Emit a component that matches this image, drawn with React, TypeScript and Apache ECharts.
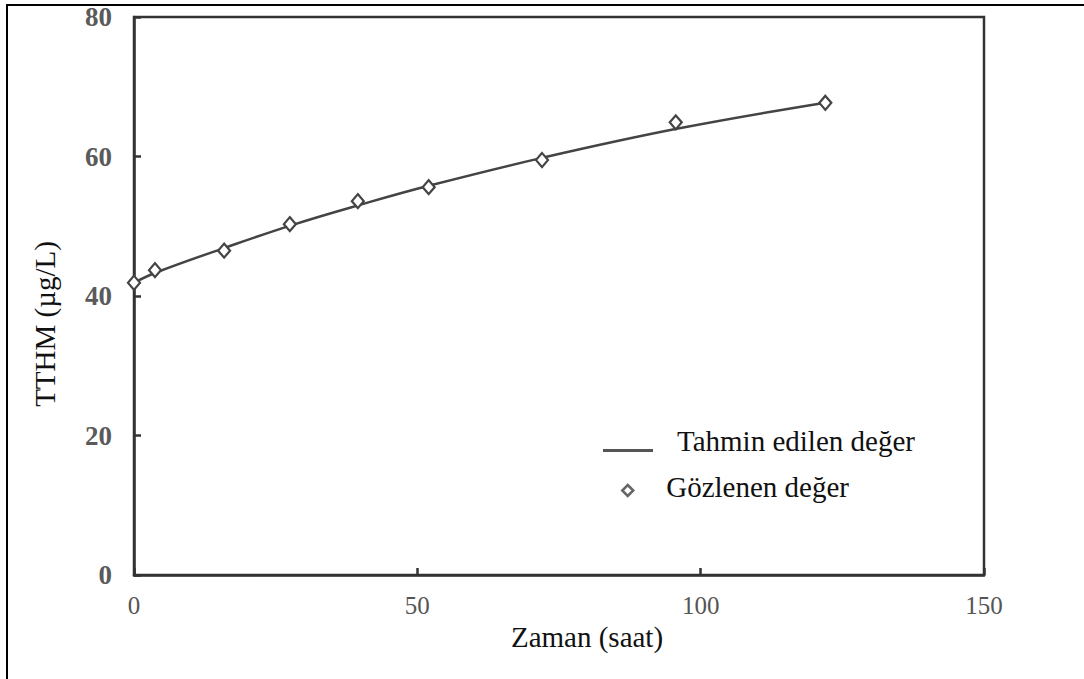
import React, { useEffect, useRef } from "react";
import * as echarts from "echarts";

// Zaman (saat) values and TTHM concentrations (µg/L)
const observedTime = [0, 3.7, 15.9, 27.5, 39.5, 52, 72, 95.6, 122];
const observedTTHM = [41.9, 43.7, 46.5, 50.3, 53.6, 55.6, 59.5, 64.9, 67.7];

const predictedTime = [0, 4, 16, 28, 40, 52, 72, 96, 122];
const predictedTTHM = [41.9, 43.4, 46.9, 50.2, 53.1, 55.8, 59.8, 64.0, 67.7];

const xTicks = { min: 0, max: 150, interval: 50 };
const yTicks = { min: 0, max: 80, interval: 20 };

const seriesNames = ["Tahmin edilen değer", "Gözlenen değer"];
const axisTitles = { x: "Zaman (saat)", y: "TTHM (µg/L)" };

const SERIF = "Liberation Serif";

export default function App() {
  const ref = useRef<HTMLDivElement>(null);

  useEffect(() => {
    if (!ref.current) return;
    const chart = echarts.init(ref.current, undefined, { renderer: "svg" });

    const line = predictedTime.map((t, i) => [t, predictedTTHM[i]]);
    const points = observedTime.map((t, i) => [t, observedTTHM[i]]);

    const axisLine = { show: true, lineStyle: { color: "#333", width: 2.5 } };
    const axisTick = { show: true, inside: true, length: 7, lineStyle: { color: "#333", width: 2.5 } };

    const legendText = (padLeft: number, padBottom: number) => ({
      fontFamily: SERIF,
      fontSize: 29,
      color: "#111",
      rich: {
        t: { fontFamily: SERIF, fontSize: 29, color: "#111", padding: [0, 0, padBottom, padLeft] },
      },
    });

    chart.setOption({
      animation: false,
      backgroundColor: "#fff",
      textStyle: { fontFamily: SERIF },
      grid: {
        left: 134,
        right: 100,
        top: 17,
        bottom: 104,
        show: true,
        borderColor: "#333",
        borderWidth: 2.5,
        backgroundColor: "transparent",
      },
      xAxis: {
        type: "value",
        min: xTicks.min,
        max: xTicks.max,
        interval: xTicks.interval,
        axisLine,
        axisTick,
        splitLine: { show: false },
        axisLabel: {
          margin: 18,
          fontFamily: SERIF,
          fontSize: 25,
          color: "#555",
        },
        name: axisTitles.x,
        nameLocation: "middle",
        nameGap: 44,
        nameTextStyle: {
          fontFamily: SERIF,
          fontSize: 29,
          color: "#111",
          padding: [0, 0, 0, 56],
        },
      },
      yAxis: {
        type: "value",
        min: yTicks.min,
        max: yTicks.max,
        interval: yTicks.interval,
        axisLine,
        axisTick,
        splitLine: { show: false },
        axisLabel: {
          margin: 22,
          fontFamily: SERIF,
          fontSize: 27,
          fontWeight: "bold",
          color: "#5a5a5a",
        },
        name: axisTitles.y,
        nameLocation: "middle",
        nameGap: 75,
        nameTextStyle: {
          fontFamily: SERIF,
          fontSize: 29,
          color: "#111",
          padding: [0, 56, 0, 0],
        },
      },
      legend: [
        {
          data: [{ name: seriesNames[0], icon: "rect" }],
          left: 598,
          top: 421,
          itemWidth: 50,
          itemHeight: 3,
          itemGap: 0,
          itemStyle: { color: "#555", borderWidth: 0 },
          formatter: "{t|{name}}",
          textStyle: legendText(19, 20),
          selectedMode: false,
        },
        {
          data: [{ name: seriesNames[1], icon: "diamond" }],
          left: 616,
          top: 467,
          itemWidth: 11,
          itemHeight: 11,
          itemGap: 0,
          itemStyle: { color: "#fff", borderColor: "#666", borderWidth: 2.5 },
          formatter: "{t|{name}}",
          textStyle: legendText(28, 8),
          selectedMode: false,
        },
      ],
      series: [
        {
          name: seriesNames[0],
          type: "line",
          data: line,
          smooth: 0.4,
          showSymbol: false,
          symbol: "none",
          color: "#444",
          lineStyle: { color: "#444", width: 2.5 },
          z: 2,
        },
        {
          name: seriesNames[1],
          type: "scatter",
          data: points,
          symbol: "diamond",
          symbolSize: [12, 14],
          itemStyle: { color: "#fff", borderColor: "#444", borderWidth: 2.2, opacity: 1 },
          z: 3,
        },
      ],
      graphic: [
        { type: "line", shape: { x1: 7, y1: 5, x2: 7, y2: 679 }, style: { stroke: "#000", lineWidth: 2 } },
        { type: "line", shape: { x1: 6, y1: 5, x2: 1084, y2: 5 }, style: { stroke: "#000", lineWidth: 2 } },
      ],
    });

    return () => chart.dispose();
  }, []);

  return (
    <div
      ref={ref}
      style={{ position: "fixed", left: 0, top: 0, width: 1084, height: 679, background: "#fff" }}
    />
  );
}
